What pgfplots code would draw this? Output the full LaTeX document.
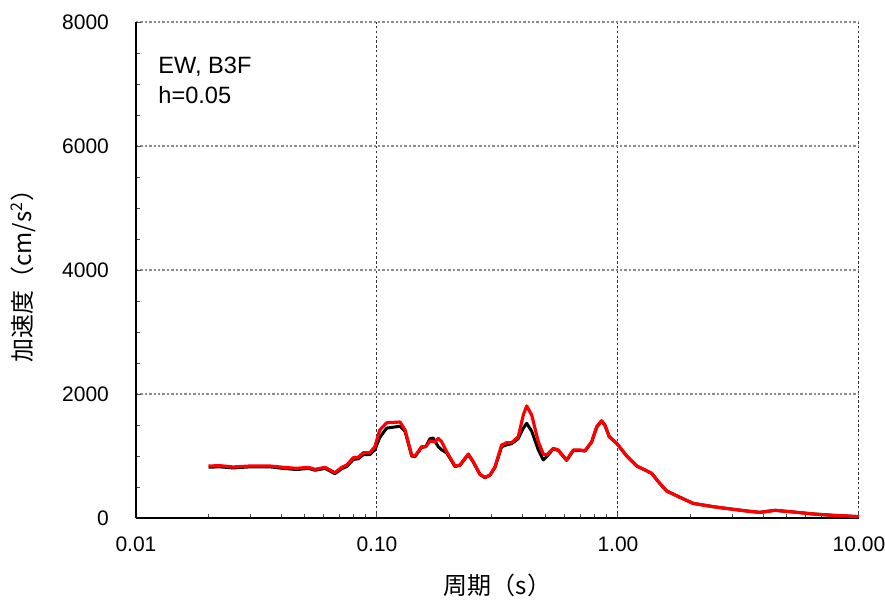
\documentclass[border=0pt]{standalone}
\usepackage{fontspec}
\setmainfont{Liberation Sans}
\newfontfamily\jp{Noto Sans CJK JP}
\usepackage{pgfplots}
\pgfplotsset{compat=1.18}
\begin{document}
\begin{tikzpicture}[font=\fontsize{10.5}{14}\selectfont]
\begin{axis}[
  at={(0,0)}, anchor=south west,
  scale only axis, width=361.5pt, height=248pt,
  xmode=log, xmin=0.01, xmax=10, ymin=0, ymax=8000,
  log basis x=10,
  xtick={0.01,0.1,1,10},
  xticklabels={0.01,0.10,1.00,10.00},
  minor xtick={0.02,0.03,0.04,0.05,0.06,0.07,0.08,0.09,0.2,0.3,0.4,0.5,0.6,0.7,0.8,0.9,2,3,4,5,6,7,8,9},
  ytick={0,2000,4000,6000,8000},
  minor ytick={500,1000,1500,2500,3000,3500,4500,5000,5500,6500,7000,7500},
  yticklabel={\pgfmathprintnumber[fixed,1000 sep={}]{\tick}},
  scaled y ticks=false,
  /pgf/number format/assume math mode=true,
  axis x line*=bottom, axis y line*=left,
  axis line style={-, line width=0.8pt, black},
  tick align=inside,
  major tick length=2.5pt, minor tick length=2.2pt,
  tick style={line width=0.5pt, black!70},
  xmajorgrids, ymajorgrids,
  x grid style={black!80, line width=0.5pt, dash pattern=on 1.2pt off 1.2pt},
  y grid style={black!45, line width=0.7pt, dash pattern=on 1.2pt off 1pt},
  xticklabel style={yshift=-6pt},
  yticklabel style={xshift=-10pt},
  xlabel={\jp 周期（s）},
  ylabel={\jp 加速度（cm/s\textsuperscript{2}）},
  xlabel style={at={(axis description cs:0.5,0)}, anchor=center, yshift=-33.5pt, font=\fontsize{12}{14}\selectfont},
  ylabel style={at={(axis description cs:0,0.5)}, anchor=center, rotate=0, yshift=56.5pt, font=\fontsize{12}{14}\selectfont},
  clip=false,
]
\addplot[black, line width=1.5pt, line join=round] coordinates {
(0.020,820) (0.0223,825) (0.0253,808) (0.0297,825) (0.036,825) (0.0409,800)
(0.0464,782) (0.0519,800) (0.0553,770) (0.0609,800) (0.0669,715) (0.0714,795)
(0.0749,830) (0.0798,945) (0.0836,955) (0.0877,1020) (0.0935,1025) (0.098,1100)
(0.1027,1300) (0.1097,1450) (0.1246,1480) (0.1307,1400) (0.1393,1000) (0.1438,990)
(0.1532,1140) (0.1592,1150) (0.166,1280) (0.171,1290) (0.1796,1150) (0.1855,1100)
(0.1946,1050) (0.2107,830) (0.221,850) (0.2392,1025) (0.251,900) (0.2675,700)
(0.2806,650) (0.2943,690) (0.3088,815) (0.329,1150) (0.3452,1180) (0.3622,1200)
(0.3857,1280) (0.4047,1450) (0.418,1527) (0.4385,1400) (0.4669,1100) (0.4898,936)
(0.506,990) (0.539,1115) (0.565,1090) (0.612,930) (0.653,1090) (0.695,1090)
(0.730,1080) (0.778,1225) (0.816,1465) (0.855,1560) (0.883,1495) (0.92,1310)
(0.988,1204) (1.087,1000) (1.196,839) (1.38,721) (1.47,586) (1.593,435)
(1.81,333) (2.05,236) (2.48,183) (3.01,140) (3.42,113) (3.88,91)
(4.48,124) (5.34,97) (6.46,65) (7.82,43) (10,22)
};
\addplot[red, line width=1.6pt, line join=round] coordinates {
(0.020,839) (0.0223,844) (0.0253,823) (0.0297,839) (0.036,839) (0.0409,817)
(0.0464,801) (0.0519,817) (0.0553,785) (0.0609,817) (0.0669,731) (0.0714,817)
(0.0749,855) (0.0798,973) (0.0836,979) (0.0877,1054) (0.0935,1054) (0.098,1150)
(0.1027,1419) (0.1097,1537) (0.1246,1548) (0.1307,1419) (0.1393,1016) (0.1438,1000)
(0.1532,1150) (0.1592,1150) (0.166,1242) (0.174,1231) (0.1796,1285) (0.1855,1231)
(0.1946,1069) (0.2107,839) (0.221,855) (0.2392,1032) (0.251,908) (0.2675,705)
(0.2806,656) (0.2943,694) (0.3088,828) (0.329,1177) (0.3452,1215) (0.3622,1215)
(0.3857,1312) (0.4047,1661) (0.418,1807) (0.4385,1661) (0.4669,1231) (0.4898,1032)
(0.506,1016) (0.539,1124) (0.565,1097) (0.612,936) (0.653,1097) (0.695,1097)
(0.730,1086) (0.778,1231) (0.816,1473) (0.855,1570) (0.883,1500) (0.92,1312)
(0.988,1204) (1.087,1000) (1.196,839) (1.38,721) (1.47,586) (1.593,435)
(1.81,333) (2.05,236) (2.48,183) (3.01,140) (3.42,113) (3.88,91)
(4.48,124) (5.34,97) (6.46,65) (7.82,43) (10,22)
};
\node[anchor=north west, align=left, inner sep=0pt, font=\fontsize{11.8}{15}\selectfont] at ([xshift=11pt,yshift=-17.2pt]rel axis cs:0,1) {EW, B3F\\h=0.05};
\end{axis}
\pgfresetboundingbox
\path[use as bounding box] (-68pt,-42pt) rectangle (374.5pt,259pt);
\end{tikzpicture}
\end{document}
